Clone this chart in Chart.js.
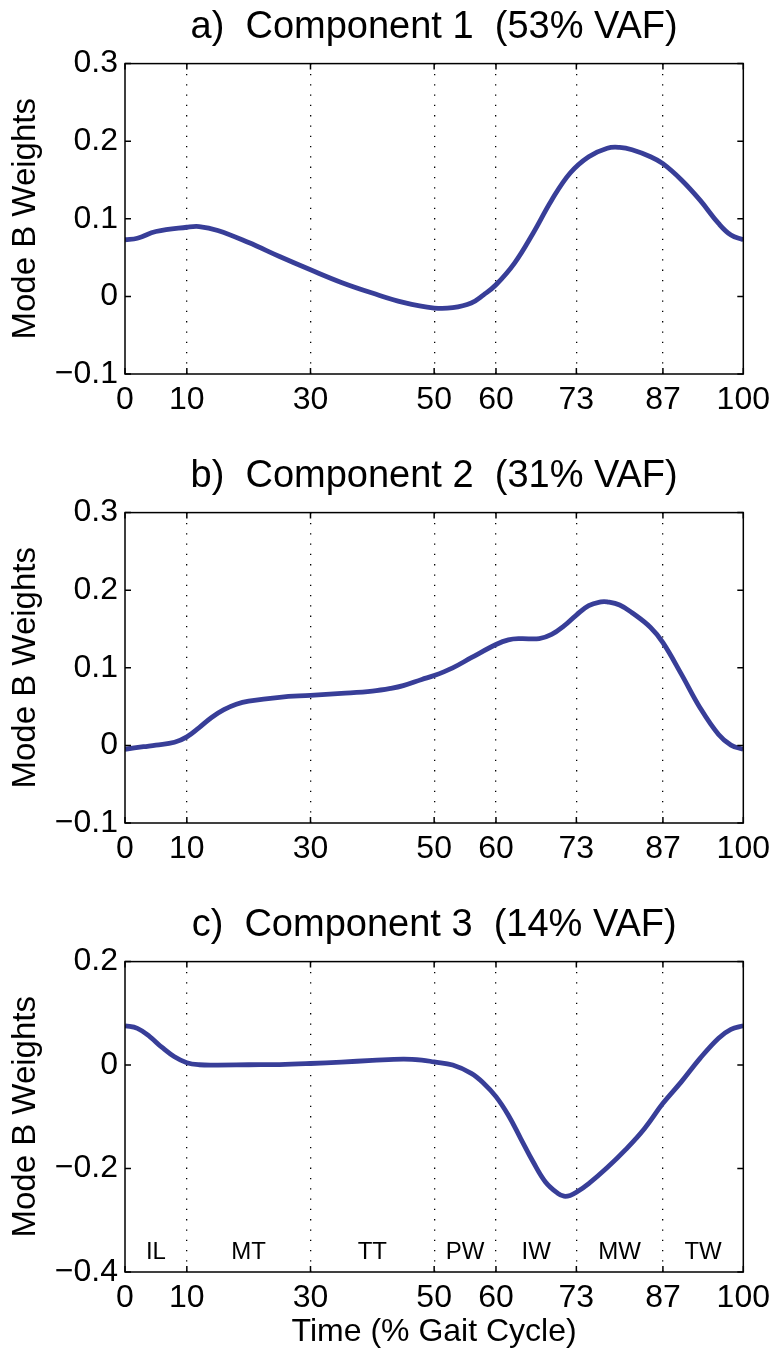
<!DOCTYPE html>
<html>
<head>
<meta charset="utf-8">
<script src="https://cdn.jsdelivr.net/npm/chart.js@4/dist/chart.umd.min.js"></script>
<style>
  body { margin: 0; background: #fff; }
  .panel { position: absolute; left: 0; }
</style>
</head>
<body>
<div class="panel" style="top:0"><canvas id="chart1" width="777" height="449"></canvas></div>
<div class="panel" style="top:449px"><canvas id="chart2" width="777" height="449"></canvas></div>
<div class="panel" style="top:898px"><canvas id="chart3" width="777" height="453"></canvas></div>
<script>
// gait cycle ticks (phase boundaries) and phase names
const xTicks = [0, 10, 30, 50, 60, 73, 87, 100];
const phaseNames = ['IL', 'MT', 'TT', 'PW', 'IW', 'MW', 'TW'];

// component 1
const x1 = [0, 2, 5, 10, 12, 15, 20, 25, 30, 35, 40, 45, 50, 53, 56, 58, 60, 63, 66, 69, 72, 75, 78, 80, 82, 85, 87, 90, 93, 96, 98, 100];
const y1 = [0.073, 0.075, 0.0836, 0.0891, 0.090, 0.085, 0.0694, 0.0514, 0.0343, 0.018, 0.0043, -0.0077, -0.015, -0.0146, -0.0086, 0.002, 0.015, 0.043, 0.0815, 0.124, 0.159, 0.18, 0.191, 0.192, 0.189, 0.18, 0.171, 0.15, 0.124, 0.094, 0.079, 0.073];

// component 2
const x2 = [0, 3, 5, 8, 10, 12, 14, 16, 18, 20, 25, 30, 35, 40, 43, 45, 48, 50, 53, 56, 60, 62, 64, 67, 69, 71, 73, 75, 77, 78, 80, 82, 85, 87, 90, 93, 96, 98, 100];
const y2 = [-0.005, -0.0017, 0.0004, 0.004, 0.011, 0.023, 0.036, 0.046, 0.053, 0.057, 0.062, 0.0645, 0.067, 0.070, 0.0735, 0.077, 0.085, 0.090, 0.100, 0.113, 0.130, 0.136, 0.1376, 0.1376, 0.143, 0.154, 0.168, 0.180, 0.185, 0.185, 0.181, 0.171, 0.152, 0.1325, 0.0916, 0.0486, 0.014, 0.0004, -0.005];

// component 3
const x3 = [0, 2, 4, 6, 8, 10, 12, 15, 20, 25, 30, 35, 40, 45, 48, 50, 53, 56, 58, 60, 62, 64, 66, 68, 70, 71, 72, 73, 75, 78, 81, 84, 87, 90, 93, 96, 98, 100];
const y3 = [0.076, 0.071, 0.055, 0.034, 0.016, 0.0045, 0.0006, 0, 0.0006, 0.001, 0.003, 0.0058, 0.009, 0.0116, 0.0097, 0.006, 0, -0.016, -0.035, -0.061, -0.097, -0.142, -0.187, -0.226, -0.248, -0.2535, -0.252, -0.246, -0.229, -0.198, -0.163, -0.123, -0.074, -0.032, 0.013, 0.052, 0.069, 0.076];

const phaseLabelY = -0.362;

const font = "'Liberation Sans', Arial, Helvetica, sans-serif";
const lineColor = '#383e98';

function fmtTick(v) {
  var s = String(Number(Math.abs(v).toFixed(1)));
  return v < -1e-9 ? '\u2212' + s : s;
}

// box round the plot with inward ticks, like matlab
const framePlugin = {
  id: 'frame',
  afterDatasetsDraw(chart) {
    var ctx = chart.ctx, a = chart.chartArea;
    var xs = chart.scales.x, ys = chart.scales.y;
    ctx.save();
    ctx.strokeStyle = '#000';
    ctx.lineWidth = 1.5;
    ctx.strokeRect(a.left, a.top, a.right - a.left, a.bottom - a.top);
    ctx.beginPath();
    xs.ticks.forEach(function (t) {
      var px = xs.getPixelForValue(t.value);
      ctx.moveTo(px, a.bottom); ctx.lineTo(px, a.bottom - 6);
      ctx.moveTo(px, a.top); ctx.lineTo(px, a.top + 6);
    });
    ys.ticks.forEach(function (t) {
      var py = ys.getPixelForValue(t.value);
      ctx.moveTo(a.left, py); ctx.lineTo(a.left + 6, py);
      ctx.moveTo(a.right, py); ctx.lineTo(a.right - 6, py);
    });
    ctx.stroke();
    ctx.restore();
  }
};

// phase names in the bottom panel
const phasePlugin = {
  id: 'phases',
  afterDatasetsDraw(chart, args, opts) {
    if (!opts.show) return;
    var ctx = chart.ctx, xs = chart.scales.x, ys = chart.scales.y;
    ctx.save();
    ctx.fillStyle = '#000';
    ctx.font = '24px ' + font;
    ctx.textAlign = 'center';
    ctx.textBaseline = 'middle';
    phaseNames.forEach(function (name, i) {
      var mid = (xTicks[i] + xTicks[i + 1]) / 2;
      ctx.fillText(name, xs.getPixelForValue(mid), ys.getPixelForValue(phaseLabelY));
    });
    ctx.restore();
  }
};

function drawPanel(id, title, xs, ys, yMin, yMax, yStep, last) {
  var points = xs.map(function (x, i) { return { x: x, y: ys[i] }; });
  var ctx = document.getElementById(id).getContext('2d');
  new Chart(ctx, {
    type: 'line',
    data: {
      datasets: [{
        data: points,
        borderColor: lineColor,
        borderWidth: 4.8,
        pointRadius: 0,
        tension: 0.4,
        fill: false,
      }],
    },
    options: {
      responsive: false,
      animation: false,
      devicePixelRatio: 1,
      layout: { padding: { left: 0, right: 30, top: 0, bottom: 0 } },
      plugins: {
        legend: { display: false },
        tooltip: { enabled: false },
        phases: { show: last },
        title: {
          display: true,
          fullSize: false,
          text: title,
          color: '#000',
          font: { family: font, size: 38, weight: 'normal' },
          padding: { top: 5, bottom: 13 },
        },
      },
      scales: {
        x: {
          type: 'linear',
          min: 0,
          max: 100,
          afterBuildTicks: function (s) { s.ticks = xTicks.map(function (v) { return { value: v }; }); },
          afterFit: function (s) { s.height = last ? 79 : 75; },
          grid: {
            drawTicks: false,
            lineWidth: 1.3,
            color: function (c) { return (c.tick && (c.tick.value === 0 || c.tick.value === 100)) ? 'rgba(0,0,0,0)' : '#000'; },
          },
          border: { display: false, dash: [1.3, 9] },
          ticks: { color: '#000', font: { family: font, size: 32 }, padding: 7, maxRotation: 0, autoSkip: false },
          title: {
            display: last,
            text: 'Time (% Gait Cycle)',
            color: '#000',
            font: { family: font, size: 32 },
            padding: 0,
          },
        },
        y: {
          min: yMin,
          max: yMax,
          afterFit: function (s) { s.width = 125; },
          grid: { display: false, drawTicks: false },
          border: { display: false },
          ticks: { stepSize: yStep, color: '#000', font: { family: font, size: 32 }, padding: 7, callback: fmtTick },
          title: {
            display: true,
            text: 'Mode B Weights',
            color: '#000',
            font: { family: font, size: 33 },
            padding: { top: 6, bottom: 0 },
          },
        },
      },
    },
    plugins: [framePlugin, phasePlugin],
  });
}

drawPanel('chart1', 'a)  Component 1  (53% VAF)', x1, y1, -0.1, 0.3, 0.1, false);
drawPanel('chart2', 'b)  Component 2  (31% VAF)', x2, y2, -0.1, 0.3, 0.1, false);
drawPanel('chart3', 'c)  Component 3  (14% VAF)', x3, y3, -0.4, 0.2, 0.2, true);
</script>
</body>
</html>
